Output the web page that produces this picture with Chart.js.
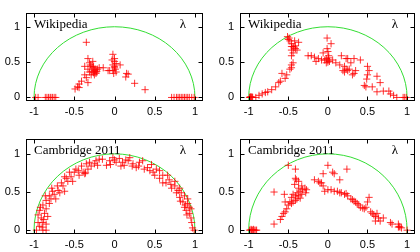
<!DOCTYPE html>
<html>
<head>
<meta charset="utf-8">
<script src="https://cdn.jsdelivr.net/npm/chart.js@4"></script>
<style>
  body { margin: 0; background: #fff; }
  #wrap { position: relative; width: 420px; height: 252px; }
  canvas { position: absolute; }
</style>
</head>
<body>
<div id="wrap">
  <canvas id="c1" width="210" height="126" style="left:0;top:0"></canvas>
  <canvas id="c2" width="210" height="126" style="left:210px;top:0"></canvas>
  <canvas id="c3" width="210" height="126" style="left:0;top:126px"></canvas>
  <canvas id="c4" width="210" height="126" style="left:210px;top:126px"></canvas>
</div>
<script>
const xTicks = [-1, -0.5, 0, 0.5, 1];
const yTicks = [0, 0.5, 1];
const cornerLabel = "λ";

// points, [x, y]
const wikiLeft = [
  [-0.98,0],[-0.95,0],[-0.86,0],[-0.84,0],[-0.82,0],[-0.80,0],[-0.79,0],[-0.77,0],[-0.75,0],[-0.73,0],
  [0.71,0],[0.74,0],[0.77,0],[0.79,0],[0.81,0],[0.83,0],[0.85,0],[0.87,0],[0.89,0],[0.91,0],[0.93,0],[0.96,0],[0.99,0],
  [-0.35,0.78],
  [-0.33,0.55],[-0.37,0.44],[-0.31,0.49],[-0.29,0.44],[-0.27,0.42],[-0.25,0.38],[-0.23,0.34],[-0.21,0.40],[-0.25,0.32],
  [-0.31,0.36],[-0.29,0.32],[-0.19,0.42],[-0.14,0.42],[-0.33,0.40],[-0.27,0.51],[-0.23,0.36],[-0.26,0.35],[-0.28,0.37],
  [-0.24,0.40],[-0.26,0.44],[-0.30,0.46],[-0.22,0.37],
  [-0.37,0.32],[-0.35,0.28],[-0.41,0.23],[-0.44,0.19],[-0.46,0.15],[-0.49,0.12],[-0.44,0.14],[-0.33,0.21],
  [-0.02,0.61],[0,0.55],[0,0.51],[-0.02,0.46],[0,0.42],[-0.02,0.38],[0.02,0.36],[-0.06,0.38],[-0.08,0.38],
  [0,0.44],[0.02,0.48],[-0.03,0.53],[0.01,0.40],[-0.01,0.34],
  [0.07,0.46],[0.15,0.34],[0.17,0.33],[0.14,0.29],[0.25,0.20],[0.38,0.11]
];
const wikiRight = [
  [-0.99,0],[-0.98,0],[-0.97,0],[-0.96,0],[-0.95,0],[-0.98,0.01],[-0.96,0.01],
  [-0.91,0],[-0.87,0.03],[-0.83,0.05],[-0.79,0.07],[-0.76,0.08],[-0.71,0.11],[-0.66,0.15],[-0.62,0.21],[-0.60,0.23],
  [-0.58,0.34],[-0.54,0.27],[-0.52,0.32],[-0.48,0.40],[-0.46,0.46],[-0.44,0.49],[-0.46,0.42],
  [-0.51,0.86],[-0.49,0.84],[-0.48,0.80],[-0.46,0.76],[-0.44,0.72],[-0.41,0.69],[-0.39,0.67],[-0.46,0.67],[-0.44,0.63],
  [-0.46,0.59],[-0.37,0.78],[-0.41,0.73],[-0.42,0.80],[-0.46,0.72],[-0.50,0.82],[-0.43,0.70],
  [-0.01,0.84],[0.04,0.76],[-0.01,0.69],[0,0.65],[0.01,0.59],[-0.02,0.55],[0,0.53],[0.02,0.51],[-0.02,0.49],
  [-0.04,0.53],[-0.06,0.63],[0,0.50],[0.01,0.56],
  [-0.25,0.59],[-0.21,0.59],[-0.17,0.57],[-0.12,0.55],[-0.08,0.53],[-0.15,0.51],
  [0.06,0.53],[0.10,0.49],[0.15,0.46],[0.17,0.59],[0.23,0.55],[0.25,0.55],[0.33,0.55],[0.41,0.53],[0.21,0.44],
  [0.19,0.38],[0.21,0.36],[0.25,0.38],[0.27,0.40],[0.23,0.40],[0.29,0.49],[0.35,0.38],[0.33,0.34],[0.31,0.32],
  [0.50,0.44],[0.52,0.38],[0.50,0.32],[0.49,0.26],[0.46,0.17],[0.48,0.15],[0.56,0.15],[0.62,0.30],[0.66,0.21],
  [0.62,0.08],[0.70,0.09],[0.77,0.09],[0.79,0.05],[0.83,0.03],[0.87,0],[0.95,0],[0.97,0],[0.99,0]
];
const cambLeft = [
  [-0.97,0],[-0.89,0],[-0.85,0],[-0.85,0.08],[-0.95,0.10],[-0.91,0.16],[-0.95,0.20],[-0.87,0.22],[-0.93,0.26],
  [-0.85,0.28],[-0.89,0.33],[-0.81,0.35],[-0.85,0.39],[-0.79,0.41],[-0.81,0.45],[-0.75,0.47],[-0.77,0.51],
  [-0.68,0.49],[-0.71,0.58],[-0.64,0.58],[-0.66,0.62],[-0.58,0.64],[-0.60,0.68],[-0.54,0.70],[-0.56,0.76],
  [-0.50,0.76],[-0.48,0.80],[-0.39,0.76],[-0.37,0.74],[-0.41,0.84],[-0.35,0.87],[-0.29,0.84],[-0.31,0.89],
  [-0.23,0.91],[-0.21,0.85],[-0.15,0.93],[-0.10,0.85],[-0.06,0.91],[-0.02,0.95],[0.02,0.89],[0.06,0.94],
  [0.10,0.89],[0.12,0.85],[0.17,0.91],[0.23,0.87],[0.27,0.82],[0.31,0.89],[0.37,0.80],[0.41,0.82],[0.48,0.76],
  [0.52,0.80],[0.56,0.68],[0.60,0.72],[0.64,0.62],[0.68,0.66],[0.71,0.55],[0.75,0.58],[0.77,0.49],[0.81,0.43],
  [0.83,0.49],[0.85,0.37],[0.87,0.30],[0.89,0.26],[0.91,0.35],[0.93,0.22],[0.95,0.16],[0.96,0.10],[0.97,0.03],[0.99,0],
  [-0.52,0.64],[-0.44,0.72],[-0.73,0.41],[-0.62,0.51],[-0.19,0.93],[0.19,0.95],[0.35,0.91],[0.46,0.86],
  [0.56,0.78],[0.66,0.72],[0.75,0.64],[0.81,0.55],[0.87,0.45],[0.91,0.41],[0.95,0.28],[-0.89,0.10],[-0.83,0.18],
  [-0.93,0.05],[-0.36,0.75],[-0.33,0.80],[-0.05,0.86],[0.08,0.84],[0.22,0.84],[0.60,0.62],[0.82,0.38],[-0.70,0.52],[-0.90,0.04],
  [-0.78,0.55],[-0.86,0.45],[-0.92,0.30],[-0.62,0.70],[-0.45,0.78],[-0.25,0.87],[0,0.92],[0.14,0.92],[0.30,0.84],
  [0.44,0.78],[0.50,0.72],[0.70,0.60],[0.79,0.52],[0.88,0.33],[0.93,0.30],[0.90,0.20],[-0.88,0.14]
];
const cambRight = [
  [-0.99,0],[-0.97,0],[-0.96,0],[-0.95,0],[-0.93,0],[-0.91,0],[-0.90,0],[-0.97,0.01],[-0.94,0.01],
  [-0.68,0.08],[-0.60,0.14],[-0.58,0.18],[-0.56,0.22],[-0.54,0.24],[-0.52,0.28],[-0.50,0.33],[-0.48,0.37],
  [-0.46,0.35],[-0.44,0.37],[-0.41,0.39],[-0.54,0.37],[-0.55,0.47],[-0.68,0.50],
  [-0.50,0.85],[-0.41,0.80],[-0.41,0.68],[-0.40,0.66],[-0.37,0.64],[-0.42,0.60],[-0.37,0.55],[-0.33,0.58],
  [-0.29,0.55],[-0.27,0.53],[-0.35,0.51],[-0.39,0.49],[-0.44,0.47],[-0.41,0.45],[-0.37,0.45],[-0.33,0.47],
  [-0.39,0.41],[-0.35,0.42],[-0.46,0.43],[-0.32,0.53],[-0.28,0.49],
  [0,0.85],[-0.06,0.74],[-0.17,0.66],[-0.12,0.64],[-0.08,0.62],[-0.06,0.58],[-0.10,0.62],[-0.04,0.51],[0,0.53],
  [0.04,0.53],[0.08,0.51],[0.12,0.51],[0.15,0.49],[0.17,0.49],[0.21,0.47],[0.23,0.48],[0.25,0.45],[0.06,0.76],
  [0.08,0.74],[0.24,0.80],[0.15,0.66],
  [0.29,0.41],[0.31,0.40],[0.33,0.38],[0.35,0.37],[0.37,0.35],[0.39,0.33],[0.41,0.30],[0.44,0.29],[0.46,0.28],
  [0.52,0.43],[0.50,0.37],[0.48,0.30],[0.54,0.24],[0.56,0.22],[0.58,0.20],[0.62,0.22],[0.60,0.18],[0.64,0.16],
  [0.60,0.12],[0.66,0.12],[0.70,0.16],[0.79,0.10],[0.81,0.08],[0.89,0.08],[0.90,0.05],[0.91,0.04],[0.93,0.03],
  [0.89,0.04],[1.0,0]
];

const tickFont = { family: '"Liberation Sans", Arial, sans-serif', size: 11 };

// frame, inward ticks, unit circle, corner texts
const framePlugin = {
  id: 'frame',
  beforeDatasetsDraw(c) {
    const { ctx, chartArea: a, scales: { x, y } } = c;
    ctx.save();
    ctx.beginPath();
    ctx.rect(a.left, a.top, a.right - a.left, a.bottom - a.top);
    ctx.clip();
    const cx = x.getPixelForValue(0), cy = y.getPixelForValue(0);
    const rx = x.getPixelForValue(1) - cx, ry = cy - y.getPixelForValue(1);
    ctx.strokeStyle = '#33dd33';
    ctx.lineWidth = 1;
    ctx.beginPath();
    ctx.ellipse(cx, cy, rx, ry, 0, 0, 2 * Math.PI);
    ctx.stroke();
    ctx.restore();
  },
  afterDraw(c) {
    const { ctx, chartArea: a, scales: { x, y } } = c;
    const L = Math.round(a.left) + 0.5, R = Math.round(a.right) - 0.5;
    const T = Math.round(a.top) + 0.5, B = Math.round(a.bottom) - 0.5;
    ctx.save();
    ctx.strokeStyle = '#000';
    ctx.lineWidth = 1;
    ctx.strokeRect(L, T, R - L, B - T);
    ctx.beginPath();
    xTicks.forEach(v => {
      const px = Math.round(x.getPixelForValue(v)) + 0.5;
      ctx.moveTo(px, B); ctx.lineTo(px, B - 4);
      ctx.moveTo(px, T); ctx.lineTo(px, T + 4);
    });
    yTicks.forEach(v => {
      const py = Math.round(y.getPixelForValue(v)) + 0.5;
      ctx.moveTo(L, py); ctx.lineTo(L + 4, py);
      ctx.moveTo(R, py); ctx.lineTo(R - 4, py);
    });
    ctx.stroke();
    ctx.fillStyle = '#000';
    ctx.font = '13px "Liberation Serif", "Times New Roman", serif';
    ctx.textBaseline = 'alphabetic';
    ctx.textAlign = 'left';
    ctx.fillText(c.options.plugins.frame.title, a.left + 8, a.top + 15);
    ctx.textAlign = 'right';
    ctx.fillText(cornerLabel, a.right - 17, a.top + 15);
    ctx.restore();
  }
};

function makePanel(id, title, pts, box) {
  new Chart(document.getElementById(id), {
    type: 'scatter',
    data: {
      datasets: [{
        data: pts.map(p => ({ x: p[0], y: p[1] })),
        pointStyle: 'cross',
        pointRadius: 3.6,
        borderWidth: 1,
        borderColor: 'rgba(255,0,0,0.8)',
        backgroundColor: 'rgba(255,0,0,0.8)'
      }]
    },
    options: {
      responsive: false,
      animation: false,
      events: [],
      layout: { padding: { top: box.top, right: box.right, left: 0, bottom: 0 } },
      plugins: { legend: { display: false }, tooltip: { enabled: false }, frame: { title } },
      scales: {
        x: {
          type: 'linear', min: box.xmin, max: 1.1,
          grid: { display: false, drawTicks: false }, border: { display: false },
          afterBuildTicks: s => { s.ticks = xTicks.map(v => ({ value: v })); },
          afterFit: s => { s.height = box.xh; },
          ticks: { padding: 4, color: '#000', font: tickFont, maxRotation: 0, autoSkip: false, callback: v => String(v) }
        },
        y: {
          type: 'linear', min: -0.05, max: 1.2,
          grid: { display: false, drawTicks: false }, border: { display: false },
          afterBuildTicks: s => { s.ticks = yTicks.map(v => ({ value: v })); },
          afterFit: s => { s.width = box.yw; },
          ticks: { padding: 6, color: '#000', font: tickFont, autoSkip: false, callback: v => String(v) }
        }
      }
    },
    plugins: [framePlugin]
  });
}

makePanel('c1', 'Wikipedia', wikiLeft, { top: 1, right: 7, xh: 25, yw: 26, xmin: -1.1 });
makePanel('c2', 'Wikipedia', wikiRight, { top: 1, right: 2, xh: 25, yw: 30, xmin: -1.11 });
makePanel('c3', 'Cambridge 2011', cambLeft, { top: 8, right: 7, xh: 18, yw: 26, xmin: -1.1 });
makePanel('c4', 'Cambridge 2011', cambRight, { top: 8, right: 2, xh: 18, yw: 30, xmin: -1.11 });
</script>
</body>
</html>
